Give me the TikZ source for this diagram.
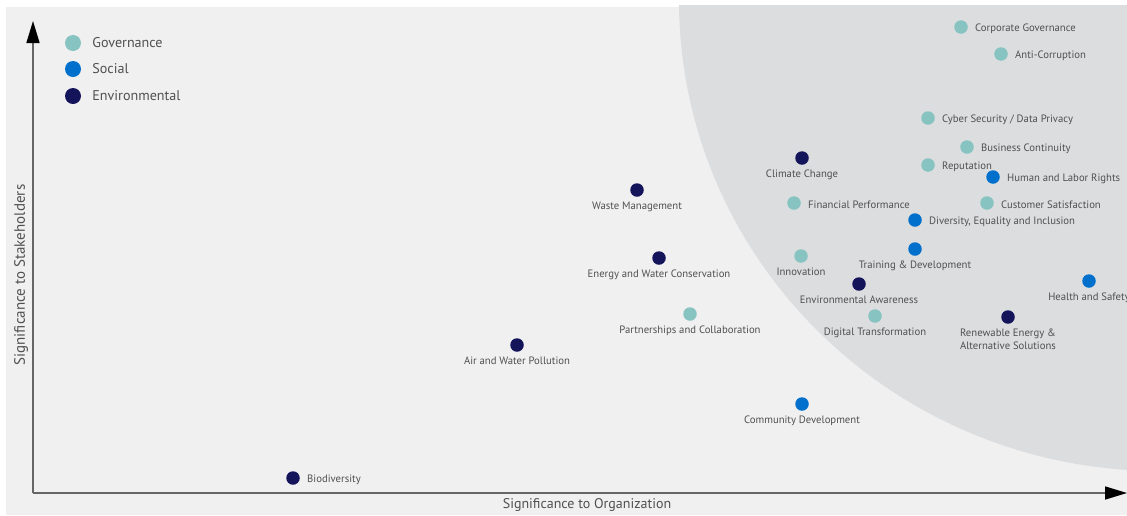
\documentclass[tikz,border=0pt]{standalone}
\usepackage{fontspec}
\setmainfont{PT Sans}
\usepackage{xcolor}
\usepackage{tikz}
\usetikzlibrary{positioning}
\usetikzlibrary{arrows.meta}
\definecolor{govcol}{HTML}{86C3C1}
\definecolor{soccol}{HTML}{0070CC}
\definecolor{envcol}{HTML}{14145A}
\definecolor{panel}{HTML}{F0F0F0}
\definecolor{zonecol}{HTML}{DCDDDF}
\definecolor{inkgray}{HTML}{505050}
\tikzset{dot/.style={circle,inner sep=0pt,minimum size=13.5pt}}
\tikzset{gov/.style={dot,fill=govcol}}
\tikzset{soc/.style={dot,fill=soccol}}
\tikzset{env/.style={dot,fill=envcol}}
\tikzset{keydot/.style={circle,inner sep=0pt,minimum size=16pt}}
\tikzset{lbl/.style={inner sep=1pt,text=inkgray,font=\fontsize{10.7}{12.5}\selectfont,align=center}}
\tikzset{rlbl/.style={lbl,yshift=-1.5pt}}
\tikzset{keytext/.style={inner sep=1pt,text=inkgray,font=\fontsize{14.1}{16}\selectfont}}
\tikzset{axistitle/.style={inner sep=1pt,text=inkgray,font=\fontsize{14}{16}\selectfont}}
\tikzset{axis/.style={draw=black!60,line width=1.6pt,-{Triangle[length=22pt,width=13pt,color=black]}}}

\begin{document}
\begin{tikzpicture}[x=1pt,y=-1pt]
	\useasboundingbox (0,0) rectangle (1127,515);
	\fill[white] (0,0) rectangle (1127,515);
	\fill[panel] (6,7) rectangle (1127,515);
	\begin{scope}
		\clip (6,5) rectangle (1127,515);
		\fill[zonecol] (1160,0) ellipse [x radius=481, y radius=471];
	\end{scope}

	% axes
	\coordinate (origin) at (33,493);
	\coordinate (ytip) at (33,21);
	\coordinate (xtip) at (1127,493);
	\draw[axis] (origin) -- (ytip);
	\draw[axis] (origin) -- (xtip);
	\node[axistitle] (xtitle) at (587,505) {Significance to Organization};
	\node[axistitle,font=\fontsize{15}{17}\selectfont,rotate=90] (ytitle) at (21,275) {Significance to Stakeholders};

	% legend
	\node[keydot,fill=govcol] (keygov) at (73,43) {};
	\node[keydot,fill=soccol] (keysoc) at (73,69) {};
	\node[keydot,fill=envcol] (keyenv) at (73,96) {};
	\node[keytext,right=10pt of keygov] (keygovtxt) {Governance};
	\node[keytext,right=10pt of keysoc] (keysoctxt) {Social};
	\node[keytext,right=10pt of keyenv] (keyenvtxt) {Environmental};

	% topics
	\node[gov] (corpgov) at (961,27) {};
	\node[rlbl,right=6pt of corpgov] {Corporate Governance};
	\node[gov] (anticorr) at (1001,54) {};
	\node[rlbl,right=6pt of anticorr] {Anti-Corruption};
	\node[gov] (cyber) at (928,118) {};
	\node[rlbl,right=6pt of cyber] {Cyber Security / Data Privacy};
	\node[gov] (bizcont) at (967,147) {};
	\node[rlbl,right=6pt of bizcont] {Business Continuity};
	\node[env] (climate) at (802,158) {};
	\node[lbl,below=4pt of climate] {Climate Change};
	\node[gov] (reput) at (928,165) {};
	\node[rlbl,right=6pt of reput] {Reputation};
	\node[soc] (humanrights) at (993,177) {};
	\node[rlbl,right=6pt of humanrights] {Human and Labor Rights};
	\node[env] (waste) at (637,190) {};
	\node[lbl,below=4pt of waste] {Waste Management};
	\node[gov] (finperf) at (794,203) {};
	\node[rlbl,right=6pt of finperf] {Financial Performance};
	\node[gov] (custsat) at (987,203) {};
	\node[rlbl,right=6pt of custsat] {Customer Satisfaction};
	\node[soc] (diversity) at (915,220) {};
	\node[rlbl,right=6pt of diversity] {Diversity, Equality and Inclusion};
	\node[soc] (training) at (915,249) {};
	\node[lbl,below=4pt of training] {Training \& Development};
	\node[gov] (innov) at (801,256) {};
	\node[lbl,below=4pt of innov] {Innovation};
	\node[env] (energy) at (659,258) {};
	\node[lbl,below=4pt of energy] {Energy and Water Conservation};
	\node[soc] (health) at (1089,281) {};
	\node[lbl,below=4pt of health] {Health and Safety};
	\node[env] (envaware) at (859,284) {};
	\node[lbl,below=4pt of envaware] {Environmental Awareness};
	\node[gov] (partner) at (690,314) {};
	\node[lbl,below=4pt of partner] {Partnerships and Collaboration};
	\node[gov] (digital) at (875,316) {};
	\node[lbl,below=4pt of digital] {Digital Transformation};
	\node[env] (renew) at (1008,317) {};
	\node[lbl,below=4pt of renew] {Renewable Energy \&\\Alternative Solutions};
	\node[env] (airwater) at (517,345) {};
	\node[lbl,below=4pt of airwater] {Air and Water Pollution};
	\node[soc] (community) at (802,404) {};
	\node[lbl,below=4pt of community] {Community Development};
	\node[env] (biodiv) at (293,478) {};
	\node[rlbl,right=6pt of biodiv] {Biodiversity};
\end{tikzpicture}
\end{document}
